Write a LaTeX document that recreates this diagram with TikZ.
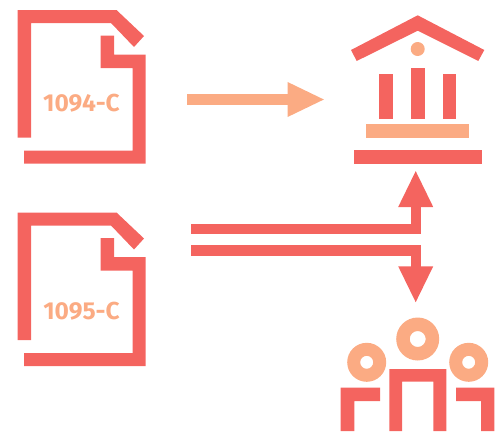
\documentclass[tikz,border=0pt]{standalone}
\usepackage{fontspec}
\setmainfont{Fira Sans}
\usetikzlibrary{arrows.meta}
\definecolor{cred}{HTML}{F4645F}
\definecolor{cpeach}{HTML}{FBAB83}
\tikzset{
  redfill/.style={fill=cred,draw=none},
  peachfill/.style={fill=cpeach,draw=none},
  doclabel/.style={text=cpeach,font=\bfseries\fontsize{24.5}{26}\selectfont,inner sep=0pt},
  redarrow/.style={draw=cred,line width=10.4pt,line join=miter,-{Triangle[width=32pt,length=37pt]}},
  peacharrow/.style={draw=cpeach,line width=10.4pt,-{Triangle[width=32pt,length=37.5pt]}},
  docicon/.pic={
    \fill[redfill] (17.5,137.5) -- (17.5,10) -- (116.5,10) -- (144,36) -- (134,47) -- (111,23) -- (31,23) -- (31,137.5) -- cycle;
    \fill[redfill] (100.5,35.5) -- (114,35.5) -- (114,54.5) -- (145.5,54.5) -- (145.5,163.5) -- (24,163.5) -- (24,150.5) -- (132.5,150.5) -- (132.5,68) -- (100.5,68) -- cycle;
  }
}
\begin{document}
\begin{tikzpicture}[x=1pt,y=-1pt]
\useasboundingbox (0,0) rectangle (500,431);
% documents
\pic at (0,0) {docicon};
\pic at (0,202.5) {docicon};
\node[doclabel] (formA) at (81.5,103.5) {1094-C};
\node[doclabel] (formB) at (81.5,310.8) {1095-C};
% bank
\fill[redfill] (351,50) -- (417.7,15.3) -- (484.3,50) -- (478.3,61) -- (417.7,30.7) -- (356.7,61) -- cycle;
\fill[peachfill] (417.7,49) circle (7);
\fill[redfill] (379,73.7) rectangle (392.7,119);
\fill[redfill] (411,67.7) rectangle (424.7,119);
\fill[redfill] (442.7,73.7) rectangle (456.3,119);
\fill[peachfill] (366.3,124.3) rectangle (468.7,138);
\fill[redfill] (354,150) rectangle (482,163.7);
% people
\fill[peachfill,even odd rule] (417.7,339) circle (21.5) (417.7,339) circle (8);
\fill[peachfill,even odd rule] (366.7,362.3) circle (19.5) (366.7,362.3) circle (6.5);
\fill[peachfill,even odd rule] (468.7,362.3) circle (19.5) (468.7,362.3) circle (6.5);
\fill[redfill] (389.3,431) -- (389.3,369) -- (446.3,369) -- (446.3,431) -- (433.3,431) -- (433.3,381.7) -- (402,381.7) -- (402,431) -- cycle;
\fill[redfill] (340.7,431) -- (340.7,387.7) -- (380,387.7) -- (380,401) -- (354.3,401) -- (354.3,431) -- cycle;
\fill[redfill] (494.3,431) -- (494.3,387.7) -- (456,387.7) -- (456,401) -- (481,401) -- (481,431) -- cycle;
% connectors
\coordinate (a1s) at (187.3,99.5);
\coordinate (a1e) at (325,99.5);
\coordinate (a2s) at (191.3,229);
\coordinate (a2c) at (415.7,229);
\coordinate (a2e) at (415.7,170);
\coordinate (a3s) at (191.3,250.3);
\coordinate (a3c) at (415.7,250.3);
\coordinate (a3e) at (415.7,303.3);
\draw[peacharrow] (a1s) -- (a1e);
\draw[redarrow] (a2s) -- (a2c) -- (a2e);
\draw[redarrow] (a3s) -- (a3c) -- (a3e);
\end{tikzpicture}
\end{document}
